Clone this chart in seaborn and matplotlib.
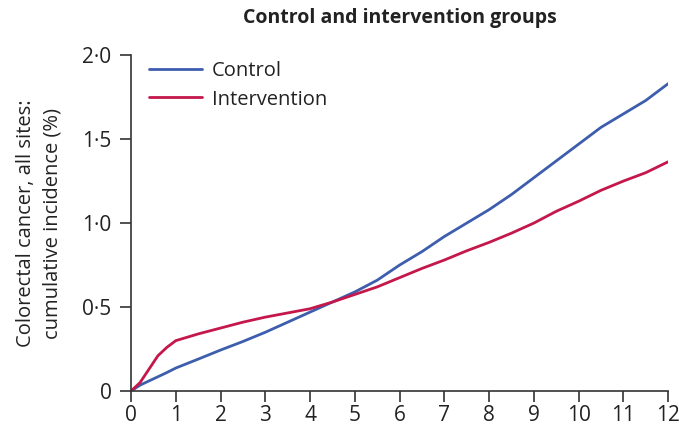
import matplotlib
matplotlib.use("Agg")
import matplotlib.pyplot as plt
import seaborn as sns
import pandas as pd

years = [0, 0.2, 0.4, 0.6, 0.8, 1, 1.5, 2, 2.5, 3, 3.5, 4, 4.5, 5, 5.5, 6, 6.5, 7,
         7.5, 8, 8.5, 9, 9.5, 10, 10.5, 11, 11.5, 12]
control = [0, 0.035, 0.06, 0.085, 0.11, 0.137, 0.19, 0.244, 0.295, 0.35, 0.41, 0.47,
           0.53, 0.59, 0.66, 0.75, 0.83, 0.92, 1.0, 1.08, 1.17, 1.27, 1.37, 1.47,
           1.57, 1.65, 1.73, 1.83]
intervention = [0, 0.05, 0.13, 0.21, 0.26, 0.30, 0.34, 0.375, 0.41, 0.44, 0.465, 0.49,
                0.53, 0.575, 0.62, 0.675, 0.73, 0.78, 0.835, 0.885, 0.94, 1.0, 1.07,
                1.13, 1.195, 1.25, 1.30, 1.365]
x_ticks = list(range(0, 13))
y_ticks = [0, 0.5, 1.0, 1.5, 2.0]
y_labels = ["0", "0·5", "1·0", "1·5", "2·0"]

df = pd.DataFrame({
    "year": years * 2,
    "value": control + intervention,
    "group": ["Control"] * len(years) + ["Intervention"] * len(years),
})

sns.set_style("white")
plt.rcParams["font.family"] = ["Open Sans", "DejaVu Sans"]

fig = plt.figure(figsize=(6.79, 4.34), dpi=100)
ax = fig.add_axes([0.193, 0.099, 0.791, 0.774])
sns.lineplot(data=df, x="year", y="value", hue="group",
             palette={"Control": "#3D5DAD", "Intervention": "#C4174B"},
             linewidth=2, ax=ax)

ax.set_xlim(0, 12)
ax.set_ylim(0, 2.0)
ax.set_xticks(x_ticks)
ax.set_yticks(y_ticks)
ax.set_yticklabels(y_labels)
ax.tick_params(axis="both", direction="out", length=8, width=1.2, color="#333333",
               labelsize=15, labelcolor="#222222", bottom=True, left=True)
ax.tick_params(axis="y", pad=6)
ax.tick_params(axis="x", pad=2)
for s in ["top", "right"]:
    ax.spines[s].set_visible(False)
for s in ["left", "bottom"]:
    ax.spines[s].set_color("#333333")
    ax.spines[s].set_linewidth(1.2)

ax.set_xlabel("")
ax.set_ylabel("Colorectal cancer, all sites:\ncumulative incidence (%)",
              fontsize=14.5, color="#222222", labelpad=14, linespacing=1.45)
ax.set_title("Control and intervention groups", fontsize=14, fontweight="bold",
             color="#222222", pad=23)

leg = ax.legend(loc="upper left", bbox_to_anchor=(0.0, 1.035), frameon=False,
                fontsize=14.5, handlelength=2.6, handletextpad=0.5, labelspacing=0.4)
for t in leg.get_texts():
    t.set_color("#222222")

fig.savefig("out.png", dpi=100)
